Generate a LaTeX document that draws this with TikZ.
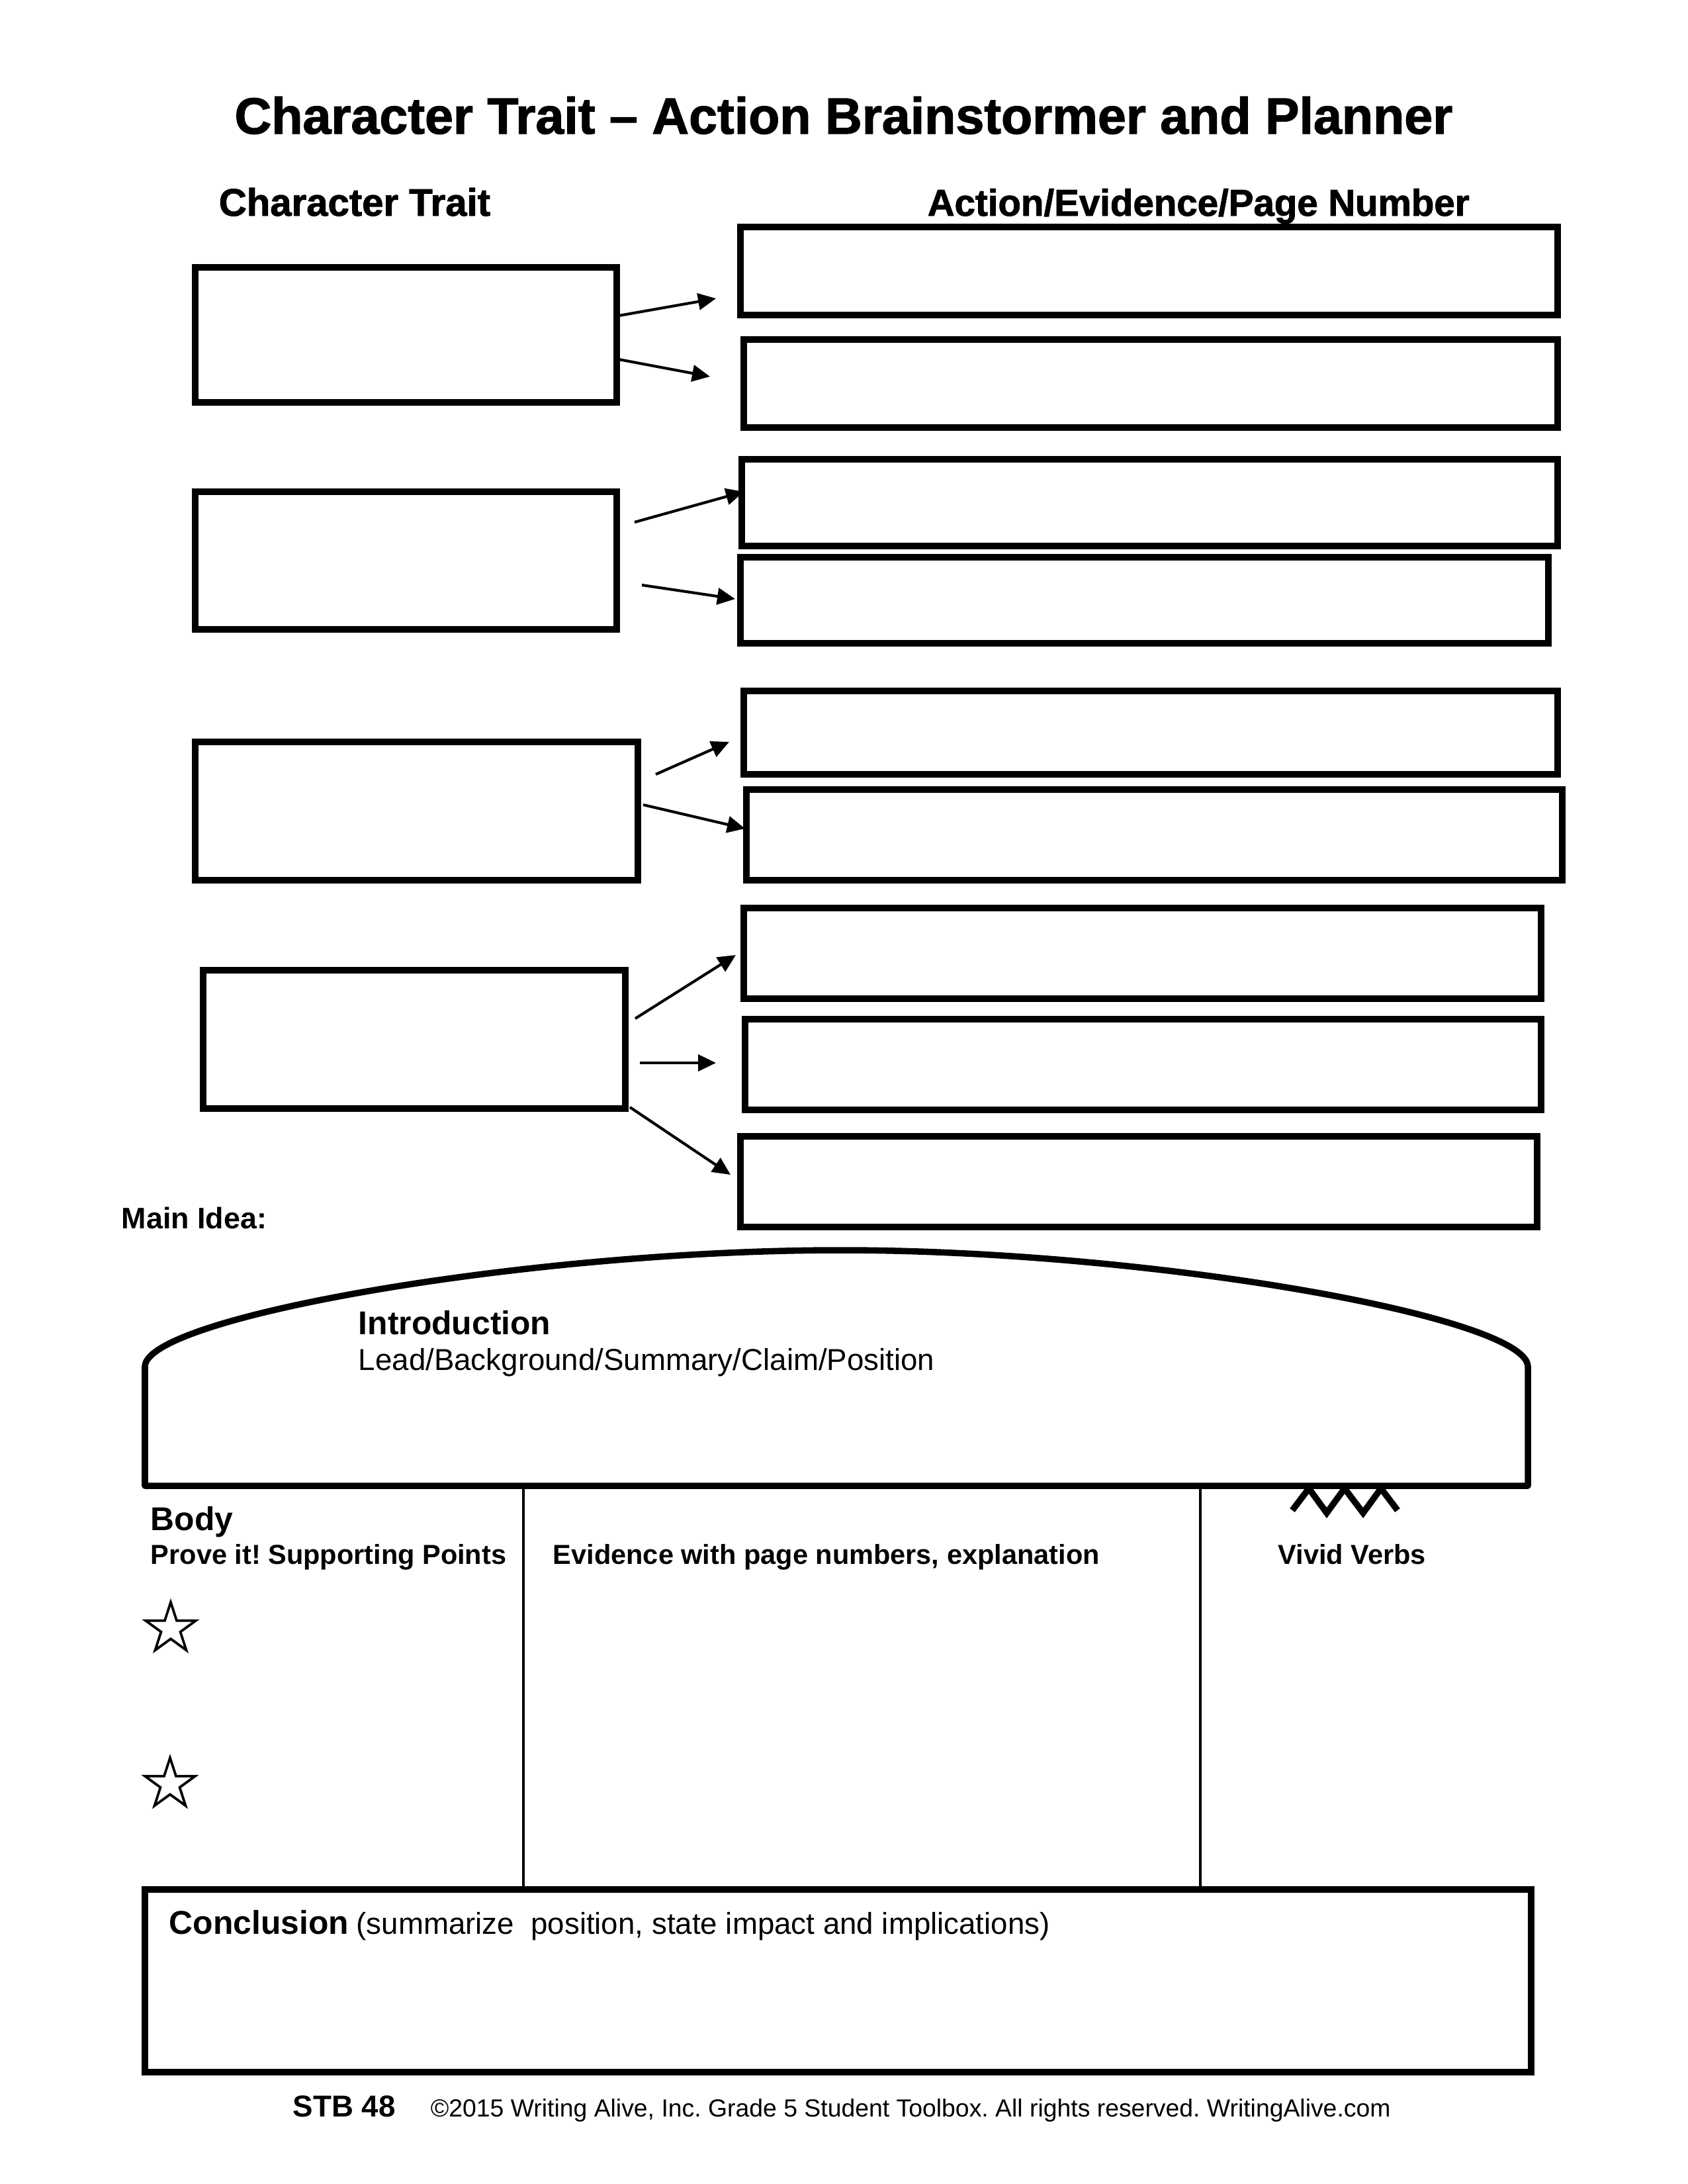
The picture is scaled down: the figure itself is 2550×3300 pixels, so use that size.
\documentclass[tikz,border=0pt]{standalone}
\usepackage{fontspec}
\setmainfont{Liberation Sans}
\newfontfamily\heavyfont[FakeBold=1.6]{Liberation Sans Bold}
\usetikzlibrary{arrows.meta,shapes.geometric}
\newcommand\px{0.24088pt}
\newcommand\fs[1]{\fontsize{#1}{#1}\selectfont}
\newcommand\bx[5]{\node[tbox,minimum width={(#4-#2)*\px},minimum height={(#5-#3)*\px}] (#1) at ({(#2+#4)/2},{(#3+#5)/2}) {};}
\frenchspacing
\begin{document}
\begin{tikzpicture}[x=0.24088pt,y=-0.24088pt,
  tbox/.style={draw,line width=2.2pt,rectangle,inner sep=0pt},
  arr/.style={line width=1pt,-{Triangle[length=6.5pt,width=6pt]}},
  lbl/.style={inner sep=0pt,anchor=base west,execute at begin node=\frenchspacing},
  thick line/.style={line width=2.3pt},
  col line/.style={line width=1pt},
  starmark/.style={star,star points=5,star point ratio=2.618,draw,line width=0.9pt,minimum size={80*\px},inner sep=0pt}]
\fill[white] (0,0) rectangle (2550,3300);
\useasboundingbox (0,0) rectangle (2550,3300);

% title and headers
\node[inner sep=0pt,anchor=base] (title) at (1275,202) {\fs{18.6}\heavyfont Character Trait – Action Brainstormer and Planner};
\node[lbl] (hct) at (330,326) {\fs{14}\heavyfont Character Trait};
\node[lbl] (hae) at (1401,326) {\fs{13.6}\heavyfont Action/Evidence/Page Number};

% trait boxes
\bx{L1}{295}{404}{932}{608}
\bx{L2}{295}{743}{932}{951}
\bx{L3}{295}{1121}{964}{1330}
\bx{L4}{307}{1466}{945}{1675}
% action boxes
\bx{R1}{1119}{343}{2354}{476}
\bx{R2}{1124}{513}{2354}{646}
\bx{R3}{1121}{694}{2354}{825}
\bx{R4}{1119}{842}{2340}{972}
\bx{R5}{1124}{1044}{2354}{1170}
\bx{R6}{1128}{1193}{2361}{1330}
\bx{R7}{1124}{1372}{2329}{1509}
\bx{R8}{1126}{1540}{2329}{1677}
\bx{R9}{1119}{1717}{2323}{1854}

% arrows
\coordinate (a1s) at (935,477);  \coordinate (a1e) at (1082,451);
\coordinate (a2s) at (935,543);  \coordinate (a2e) at (1073,569);
\coordinate (a3s) at (959,789);  \coordinate (a3e) at (1124,743);
\coordinate (a4s) at (970,884);  \coordinate (a4e) at (1111,905);
\coordinate (a5s) at (991,1170); \coordinate (a5e) at (1102,1121);
\coordinate (a6s) at (972,1216); \coordinate (a6e) at (1126,1252);
\coordinate (a7s) at (960,1539); \coordinate (a7e) at (1112,1443);
\coordinate (a8s) at (967,1606); \coordinate (a8e) at (1082,1606);
\coordinate (a9s) at (952,1673); \coordinate (a9e) at (1104,1775);
\foreach \i in {1,...,9}{\draw[arr] (a\i s) -- (a\i e);}

% main idea
\node[lbl] (mainidea) at (183,1856) {\fs{10.8}\bfseries Main Idea:};

% introduction shape
\draw[thick line,line join=round] (219,2245) -- (219,2065)
  .. controls (219,1990) and (800,1889) .. (1270,1889)
  .. controls (1740,1889) and (2309,1990) .. (2309,2065)
  -- (2309,2245) -- cycle;
\node[lbl] (intro) at (541,2016) {\fs{12}\bfseries Introduction};
\node[lbl] (introsub) at (541,2070) {\fs{11}Lead/Background/Summary/Claim/Position};

% body columns
\coordinate (c1t) at (791,2245); \coordinate (c1b) at (791,2855);
\coordinate (c2t) at (1814,2245); \coordinate (c2b) at (1814,2855);
\draw[col line] (c1t) -- (c1b);
\draw[col line] (c2t) -- (c2b);
\node[lbl] (body) at (227,2312) {\fs{12}\bfseries Body};
\node[lbl] (prove) at (227,2363) {\fs{10}\bfseries Prove it! Supporting Points};
\node[lbl] (evid) at (835,2363) {\fs{10}\bfseries Evidence with page numbers, explanation};
\node[lbl] (vivid) at (1931,2363) {\fs{10}\bfseries Vivid Verbs};
\draw[thick line,line join=miter] (1953,2282) -- (1978,2249) -- (2005,2286) -- (2032,2249) -- (2060,2286) -- (2087,2249) -- (2112,2282);
\node[starmark] (star1) at (258,2461) {};
\node[starmark] (star2) at (257,2696) {};

% conclusion
\bx{concl}{219}{2855}{2314}{3131}
\node[lbl] (conctext) at (255,2922) {{\fs{12}\bfseries Conclusion} {\fs{11}(summarize\ \ position, state impact and implications)}};

% footer
\node[lbl] (stb) at (442,3198) {\fs{11}\bfseries STB 48};
\node[lbl] (copy) at (650,3198) {\fs{9}©2015 Writing Alive, Inc. Grade 5 Student Toolbox. All rights reserved. WritingAlive.com};
\end{tikzpicture}
\end{document}
